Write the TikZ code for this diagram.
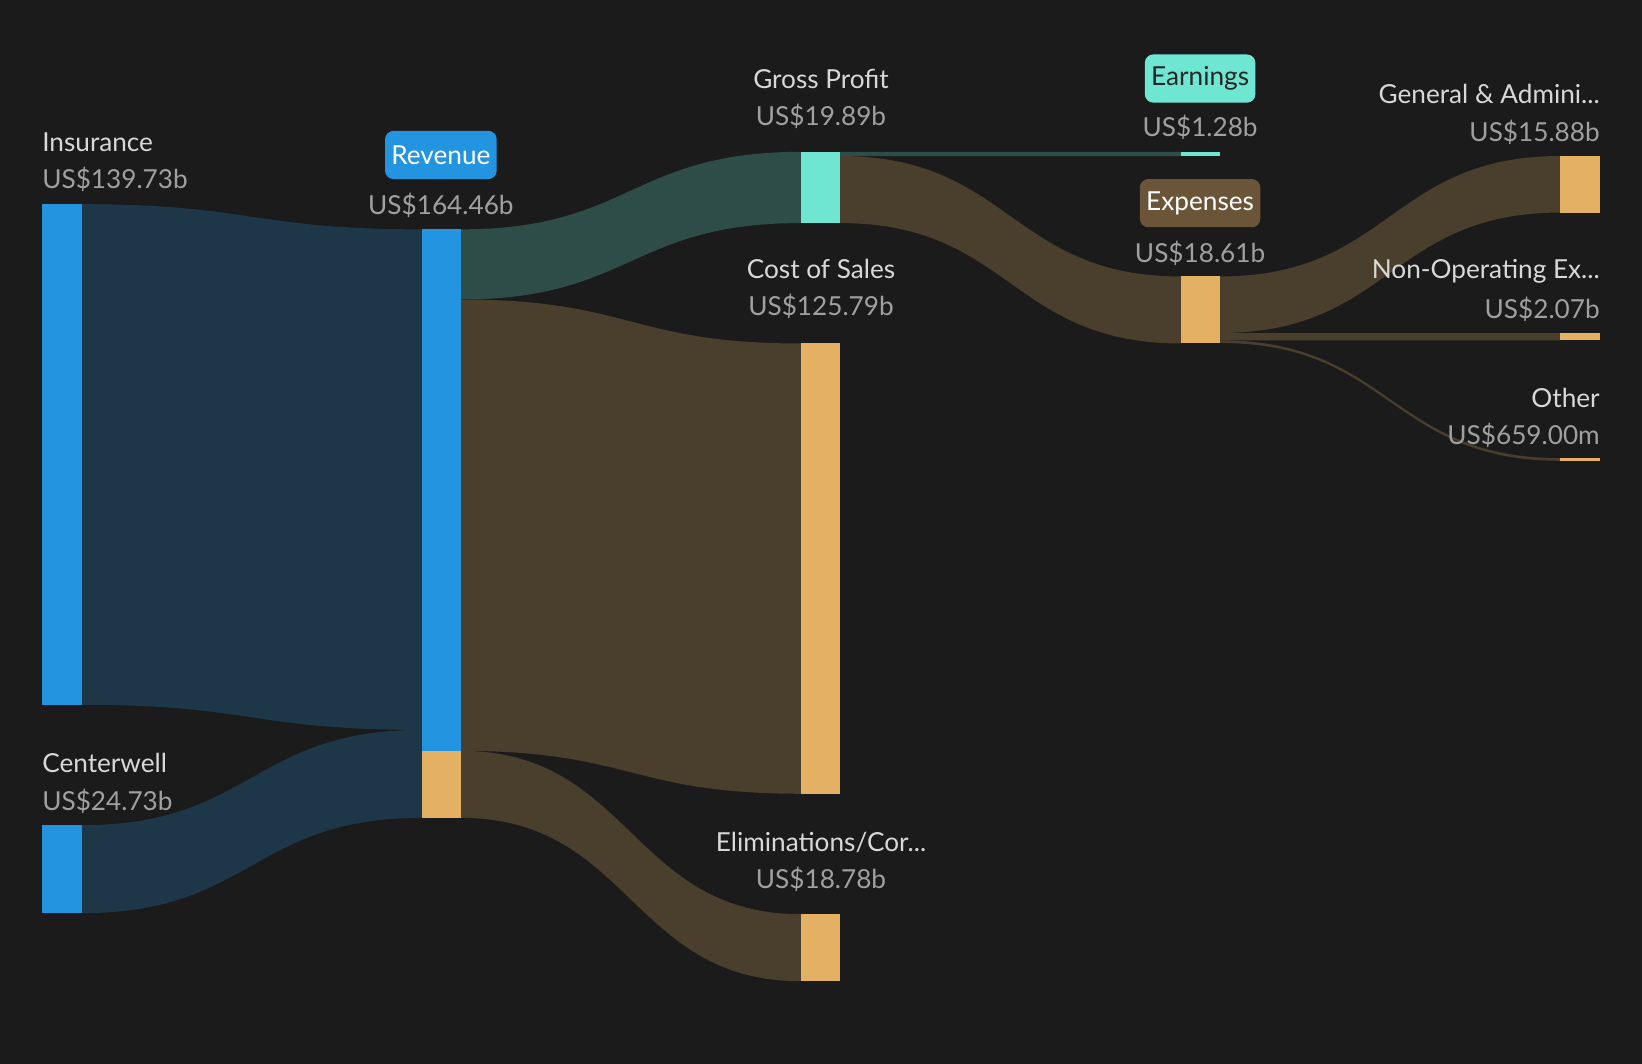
\documentclass[tikz,border=0pt]{standalone}
\usepackage{fontspec}
\setmainfont{Lato}
\definecolor{bg}{HTML}{1B1B1B}
\definecolor{cblue}{HTML}{2394E0}
\definecolor{lblue}{HTML}{1D3648}
\definecolor{cteal}{HTML}{6EE6D2}
\definecolor{lteal}{HTML}{2E4C48}
\definecolor{corange}{HTML}{E4B064}
\definecolor{lbrown}{HTML}{4A3E2C}
\definecolor{badgebrown}{HTML}{6B5538}
\definecolor{lab}{HTML}{D8D8D8}
\definecolor{val}{HTML}{A0A0A0}
\newcommand\flow[7]{\fill[#7] (#1,#2) .. controls ({(#1+#4)/2},#2) and ({(#1+#4)/2},#5) .. (#4,#5) -- (#4,#6) .. controls ({(#1+#4)/2},#6) and ({(#1+#4)/2},#3) .. (#1,#3) -- cycle;}
\begin{document}
\begin{tikzpicture}[x=0.5pt,y=-0.5pt,
  lbl/.style={text=lab,font=\fontsize{12.5}{14}\selectfont,inner sep=0pt},
  vl/.style={text=val,font=\fontsize{12.5}{14}\selectfont,inner sep=0pt},
  badge/.style={rounded corners=4pt,inner xsep=3pt,inner ysep=3pt,font=\fontsize{12.5}{14}\selectfont,minimum height=23pt}]
\fill[bg] (0,0) rectangle (1568,1016);
\useasboundingbox (0,0) rectangle (1568,1016);
% flows
\flow{78}{195}{673}{403}{219}{697}{lblue}
\flow{78}{788}{872}{403}{697}{781}{lblue}
\flow{440}{219}{286}{765}{145}{213}{lteal}
\flow{440}{286}{717}{765}{328}{758}{lbrown}
\flow{440}{717}{781}{765}{873}{937}{lbrown}
\flow{802}{145}{149}{1128}{145}{149}{lteal}
\flow{802}{149}{213}{1128}{264}{328}{lbrown}
\flow{1165}{264}{318}{1490}{149}{203}{lbrown}
\flow{1165}{318}{325}{1490}{318}{325}{lbrown}
\flow{1165}{325}{327.5}{1490}{437.5}{440}{lbrown}
% bars
\fill[cblue] (40,195) rectangle (78,673);
\fill[cblue] (40,788) rectangle (78,872);
\fill[cblue] (403,219) rectangle (440,717);
\fill[corange] (403,717) rectangle (440,781);
\fill[cteal] (765,145) rectangle (802,213);
\fill[corange] (765,328) rectangle (802,758);
\fill[corange] (765,873) rectangle (802,937);
\fill[cteal] (1128,145) rectangle (1165,149);
\fill[corange] (1128,264) rectangle (1165,328);
\fill[corange] (1490,149) rectangle (1528,203);
\fill[corange] (1490,318) rectangle (1528,325);
\fill[corange] (1490,437.5) rectangle (1528,440);
% labels
\node[lbl,anchor=west] (ins) at (40,136) {Insurance};
\node[vl,anchor=west] (insv) at (40,171) {US\$139.73b};
\node[lbl,anchor=west] (cw) at (40,729) {Centerwell};
\node[vl,anchor=west] (cwv) at (40,765) {US\$24.73b};
\node[badge,fill=cblue,text=white] (rev) at (421,148) {Revenue};
\node[vl] (revv) at (421,196) {US\$164.46b};
\node[lbl] (gp) at (784,75) {Gross Profit};
\node[vl] (gpv) at (784,111) {US\$19.89b};
\node[lbl] (cos) at (784,257) {Cost of Sales};
\node[vl] (cosv) at (784,293) {US\$125.79b};
\node[lbl] (el) at (784,804) {Eliminations/Cor...};
\node[vl] (elv) at (784,840) {US\$18.78b};
\node[badge,fill=cteal,text=black!85] (earn) at (1146,75) {Earnings};
\node[vl] (earnv) at (1146,122) {US\$1.28b};
\node[badge,fill=badgebrown,text=white] (exp) at (1146,194) {Expenses};
\node[vl] (expv) at (1146,242) {US\$18.61b};
\node[lbl,anchor=east] (ga) at (1528,90) {General \& Admini...};
\node[vl,anchor=east] (gav) at (1528,126) {US\$15.88b};
\node[lbl,anchor=east] (no) at (1528,259) {Non-Operating Ex...};
\node[vl,anchor=east] (nov) at (1528,295) {US\$2.07b};
\node[lbl,anchor=east] (ot) at (1528,380) {Other};
\node[vl,anchor=east] (otv) at (1528,416) {US\$659.00m};
\end{tikzpicture}
\end{document}
